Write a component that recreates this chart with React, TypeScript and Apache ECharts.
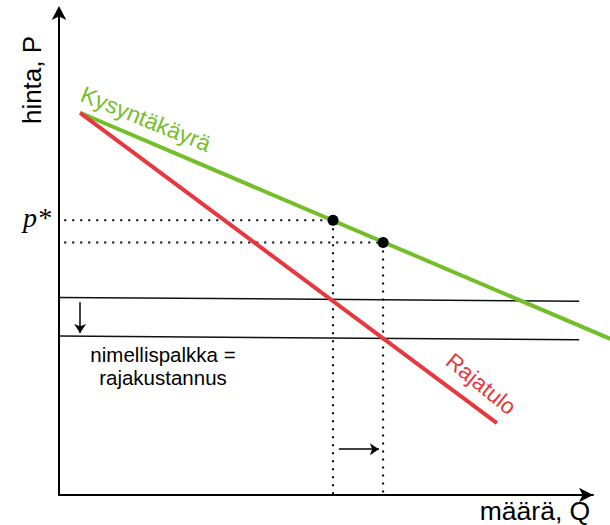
import React, { useEffect, useRef } from "react";
import * as echarts from "echarts";

// Demand curve (Kysyntäkäyrä) and marginal revenue (Rajatulo), in axis units
const demandQ = [0.4, 10.46];
const demandP = [7.93, 3.24];
const mrQ = [0.4, 8.31];
const mrP = [7.93, 1.49];
// Nominal wage = marginal cost, before and after
const wageQ = [0, 9.87];
const wageOldP = [4.1, 4.02];
const wageNewP = [3.3, 3.22];
// Equilibria on the demand curve
const eqQ = [5.2, 6.15];
const eqP = [5.7, 5.24];
const guideStartQ = 0.1;
// Shift arrows
const wageArrowQ = 0.4;
const wageArrowP = [4.0, 3.36];
const qtyArrowP = 0.95;
const qtyArrowQ = [5.31, 6.07];

const GREEN = "#74BE2A";
const RED = "#E8383F";
const SANS = "Liberation Sans, Arial, Helvetica, sans-serif";

export default function App() {
  const ref = useRef<HTMLDivElement>(null);
  useEffect(() => {
    if (!ref.current) return;
    const chart = echarts.init(ref.current, undefined, { renderer: "svg" });
    const zip = (xs: number[], ys: number[]) => xs.map((x, i) => [x, ys[i]]);
    const guides: any[] = [];
    eqQ.forEach((q, i) => {
      guides.push({
        type: "line",
        data: [
          [guideStartQ, eqP[i]],
          [q, eqP[i]],
        ],
        showSymbol: false,
        silent: true,
        lineStyle: { color: "#000", width: 2, type: [2, 6] },
      });
      guides.push({
        type: "line",
        data: [
          [q, eqP[i]],
          [q, 0],
        ],
        showSymbol: false,
        silent: true,
        lineStyle: { color: "#000", width: 2, type: [2, 6] },
      });
    });
    const hidden = {
      axisTick: { show: false },
      axisLabel: { show: false },
      splitLine: { show: false },
    };
    chart.setOption({
      animation: false,
      grid: [
        { left: 59, top: 13, width: 551, height: 482 },
        { left: 59, top: 13, width: 534, height: 482 },
      ],
      xAxis: [
        {
          type: "value",
          gridIndex: 0,
          min: 0,
          max: 10.455,
          axisLine: { show: false },
          ...hidden,
        },
        {
          type: "value",
          gridIndex: 1,
          min: 0,
          max: 10,
          axisLine: {
            show: true,
            symbol: ["none", "arrow"],
            symbolSize: [11, 14],
            lineStyle: { color: "#000", width: 2 },
          },
          ...hidden,
        },
      ],
      yAxis: [
        {
          type: "value",
          gridIndex: 0,
          min: 0,
          max: 10,
          axisLine: {
            show: true,
            symbol: ["none", "arrow"],
            symbolSize: [11, 14],
            symbolOffset: [0, 7],
            lineStyle: { color: "#000", width: 2 },
          },
          ...hidden,
        },
        {
          type: "value",
          gridIndex: 1,
          min: 0,
          max: 10,
          axisLine: { show: false },
          ...hidden,
        },
      ],
      series: [
        ...guides,
        {
          type: "line",
          data: zip(wageQ, wageOldP),
          showSymbol: false,
          lineStyle: { color: "#111", width: 1.5 },
        },
        {
          type: "line",
          data: zip(wageQ, wageNewP),
          showSymbol: false,
          lineStyle: { color: "#111", width: 1.5 },
        },
        {
          type: "line",
          data: zip(demandQ, demandP),
          showSymbol: false,
          clip: false,
          lineStyle: { color: GREEN, width: 4 },
        },
        {
          type: "line",
          data: zip(mrQ, mrP),
          showSymbol: false,
          clip: false,
          lineStyle: { color: RED, width: 4 },
        },
        {
          type: "scatter",
          data: zip(eqQ, eqP),
          symbolSize: 11,
          z: 10,
          itemStyle: { color: "#000", opacity: 1, borderWidth: 0 },
        },
        {
          type: "lines",
          coordinateSystem: "cartesian2d",
          symbol: ["none", "arrow"],
          symbolSize: 9,
          lineStyle: { color: "#000", width: 1.5, opacity: 1 },
          data: [
            {
              coords: [
                [wageArrowQ, wageArrowP[0]],
                [wageArrowQ, wageArrowP[1]],
              ],
            },
            {
              coords: [
                [qtyArrowQ[0], qtyArrowP],
                [qtyArrowQ[1], qtyArrowP],
              ],
            },
          ],
        },
      ],
      graphic: [
        {
          type: "text",
          x: 32,
          y: 80,
          rotation: Math.PI / 2,
          style: {
            text: "hinta, P",
            font: `26px ${SANS}`,
            fill: "#000",
            align: "center",
            verticalAlign: "middle",
          },
        },
        {
          type: "text",
          x: 535,
          y: 511,
          style: {
            text: "määrä, Q",
            font: `26.5px ${SANS}`,
            fill: "#000",
            align: "center",
            verticalAlign: "middle",
          },
        },
        {
          type: "text",
          x: 37,
          y: 217,
          style: {
            text: "p*",
            font: `italic 28px "Liberation Serif", "Times New Roman", serif`,
            fill: "#000",
            align: "center",
            verticalAlign: "middle",
          },
        },
        {
          type: "text",
          x: 163,
          y: 354,
          style: {
            text: "nimellispalkka =",
            font: `20.5px ${SANS}`,
            fill: "#000",
            align: "center",
            verticalAlign: "middle",
          },
        },
        {
          type: "text",
          x: 163,
          y: 377,
          style: {
            text: "rajakustannus",
            font: `20.5px ${SANS}`,
            fill: "#000",
            align: "center",
            verticalAlign: "middle",
          },
        },
        {
          type: "text",
          x: 146,
          y: 119,
          rotation: (-22 * Math.PI) / 180,
          style: {
            text: "Kysyntäkäyrä",
            font: `23px ${SANS}`,
            fill: GREEN,
            align: "center",
            verticalAlign: "middle",
          },
        },
        {
          type: "text",
          x: 481,
          y: 384,
          rotation: (-39 * Math.PI) / 180,
          style: {
            text: "Rajatulo",
            font: `22.5px ${SANS}`,
            fill: RED,
            align: "center",
            verticalAlign: "middle",
          },
        },
      ],
    });
    return () => chart.dispose();
  }, []);
  return (
    <div
      ref={ref}
      style={{ position: "absolute", left: 0, top: 0, width: 610, height: 525 }}
    />
  );
}
